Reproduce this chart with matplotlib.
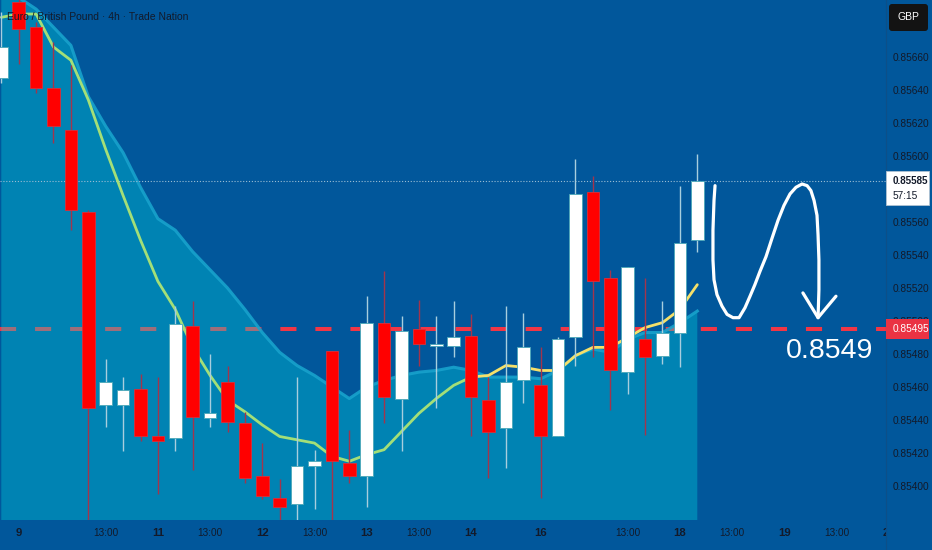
import numpy as np
import matplotlib.pyplot as plt
from matplotlib.patches import Rectangle, FancyBboxPatch
from matplotlib.transforms import IdentityTransform

# EUR/GBP 4h candles
opens = [0.85647, 0.85693, 0.85678, 0.85641, 0.85616, 0.85566, 0.85449, 0.85449, 0.85459, 0.85430,
         0.85429, 0.85497, 0.85441, 0.85463, 0.85438, 0.85406, 0.85393, 0.85389, 0.85412, 0.85482,
         0.85414, 0.85406, 0.85499, 0.85453, 0.85495, 0.85485, 0.85485, 0.85491, 0.85452, 0.85435,
         0.85464, 0.85461, 0.85430, 0.85490, 0.85578, 0.85526, 0.85469, 0.85489, 0.85479, 0.85493,
         0.85549]
highs = [0.85687, 0.85699, 0.85681, 0.85669, 0.85655, 0.85567, 0.85477, 0.85466, 0.85468, 0.85466,
         0.85509, 0.85512, 0.85480, 0.85473, 0.85445, 0.85426, 0.85404, 0.85466, 0.85422, 0.85482,
         0.85434, 0.85515, 0.85530, 0.85503, 0.85513, 0.85503, 0.85512, 0.85504, 0.85466, 0.85509,
         0.85505, 0.85484, 0.85490, 0.85598, 0.85588, 0.85531, 0.85533, 0.85526, 0.85512, 0.85582,
         0.85601]
lows = [0.85644, 0.85656, 0.85638, 0.85608, 0.85555, 0.85373, 0.85436, 0.85421, 0.85427, 0.85395,
        0.85421, 0.85410, 0.85436, 0.85433, 0.85402, 0.85392, 0.85373, 0.85373, 0.85386, 0.85373,
        0.85402, 0.85387, 0.85438, 0.85421, 0.85473, 0.85447, 0.85478, 0.85430, 0.85405, 0.85411,
        0.85450, 0.85393, 0.85430, 0.85473, 0.85478, 0.85446, 0.85456, 0.85431, 0.85474, 0.85472,
        0.85542]
closes = [0.85666, 0.85677, 0.85641, 0.85618, 0.85567, 0.85447, 0.85463, 0.85458, 0.85430, 0.85427,
          0.85498, 0.85442, 0.85444, 0.85439, 0.85405, 0.85394, 0.85387, 0.85412, 0.85415, 0.85415,
          0.85406, 0.85499, 0.85454, 0.85494, 0.85486, 0.85485, 0.85490, 0.85454, 0.85433, 0.85463,
          0.85484, 0.85430, 0.85489, 0.85577, 0.85524, 0.85470, 0.85533, 0.85478, 0.85493, 0.85547,
          0.85585]

# moving average line and the upper edge of the shaded area
ema_vals = [0.85684, 0.85686, 0.85686, 0.85666, 0.85658, 0.85634, 0.85604, 0.85576, 0.85549, 0.85524,
            0.85507, 0.85484, 0.85467, 0.85452, 0.85445, 0.85437, 0.85430, 0.85428, 0.85426, 0.85418,
            0.85415, 0.85419, 0.85422, 0.85433, 0.85444, 0.85453, 0.85461, 0.85466, 0.85467, 0.85473,
            0.85472, 0.85470, 0.85470, 0.85479, 0.85484, 0.85484, 0.85490, 0.85496, 0.85499, 0.85507,
            0.85522]
band_vals = [0.85704, 0.85696, 0.85689, 0.85678, 0.85667, 0.85636, 0.85618, 0.85602, 0.85581, 0.85562,
             0.85555, 0.85542, 0.85531, 0.85520, 0.85507, 0.85493, 0.85481, 0.85473, 0.85467, 0.85460,
             0.85453, 0.85460, 0.85464, 0.85467, 0.85469, 0.85470, 0.85472, 0.85470, 0.85466, 0.85466,
             0.85466, 0.85465, 0.85470, 0.85479, 0.85483, 0.85481, 0.85489, 0.85493, 0.85493, 0.85499,
             0.85506]

# time axis (candle index -> label)
tick_pos = [1, 6, 9, 12, 15, 18, 21, 24, 27, 31, 36, 39, 42, 45, 48, 51]
tick_labels = ["9", "13:00", "11", "13:00", "12", "13:00", "13", "13:00",
               "14", "16", "13:00", "18", "13:00", "19", "13:00", "20"]
price_ticks = [0.85400, 0.85420, 0.85440, 0.85460, 0.85480, 0.85500, 0.85520,
               0.85540, 0.85560, 0.85580, 0.85600, 0.85620, 0.85640, 0.85660]

last_price = 0.85585
target_price = 0.85495
countdown = "57:15"
title = "Euro / British Pound · 4h · Trade Nation"

# hand drawn projection (candle index, price)
sketch_x = [41.02, 40.96, 40.90, 40.90, 40.96, 41.13, 41.42, 41.71, 42.05, 42.40,
            42.74, 43.03, 43.31, 43.60, 43.95, 44.29, 44.64, 44.98, 45.33, 45.67,
            46.02, 46.31, 46.53, 46.71, 46.88, 46.94, 46.99, 46.99, 46.94]
sketch_y = [0.85582, 0.85573, 0.85555, 0.85537, 0.85525, 0.85516, 0.85509, 0.85504, 0.85502, 0.85502,
            0.85508, 0.85515, 0.85522, 0.85530, 0.85539, 0.85550, 0.85561, 0.85570, 0.85577, 0.85581,
            0.85583, 0.85582, 0.85579, 0.85573, 0.85564, 0.85552, 0.85537, 0.85519, 0.85502]
head_x = [46.07, 46.94, 47.97]
head_y = [0.85517, 0.85502, 0.85515]

#colours
BG = "#01579b"
RED = "#ff0000"
DARK = "#131a2a"
FONT = ["Liberation Sans", "DejaVu Sans"]

W, H = 932, 550
fig = plt.figure(figsize=(W / 100, H / 100), dpi=100)
fig.patch.set_facecolor(BG)

ax = fig.add_axes([0, 30 / H, 1, 520 / H])
ax.set_facecolor(BG)
step = 17.4   # px per candle
x0 = 1.3
ax.set_xlim(-x0 / step, (W - x0) / step)
y_top, y_bot = 0.856945, 0.853794
ax.set_ylim(y_bot, y_top)
for s in ax.spines.values():
    s.set_visible(False)

idx = np.arange(len(opens))
o = np.array(opens); c = np.array(closes)
up = c >= o

# target line sits under the shaded area
ax.axhline(target_price, color="#f23645", lw=2.9, dashes=(4, 4.7), zorder=1)

ax.fill_between(idx, band_vals, y_bot - 0.001, color=(0, 219 / 255, 226 / 255),
                alpha=0.34, lw=0, zorder=2)
ax.plot(idx, band_vals, color="#18a2cc", lw=2.2, alpha=0.9, zorder=2.5)

ax.axhline(last_price, color="#9bbdd4", lw=0.8, ls=(0, (1, 1.6)), zorder=3)

ax.plot(idx[:28], ema_vals[:28], color="#a3df78", lw=2, zorder=3, solid_capstyle="round")
ax.plot(idx[27:], ema_vals[27:], color="#f5e06a", lw=2, zorder=3, solid_capstyle="round")

wick_cols = ["#a8cede" if u else "#a3344c" for u in up]
ax.vlines(idx, lows, highs, colors=wick_cols, lw=1, zorder=3.5)
body_h = np.maximum(np.abs(c - o), 0.000009)
body_b = np.minimum(o, c)
ax.bar(idx, body_h, bottom=body_b, width=0.72,
       color=["#ffffff" if u else RED for u in up],
       edgecolor=["#4aa7b8" if u else "#d8303c" for u in up], linewidth=0.6, zorder=4)

# drawing
ax.plot(sketch_x, sketch_y, color="white", lw=2.3, solid_capstyle="round",
        solid_joinstyle="round", zorder=6)
ax.plot(head_x, head_y, color="white", lw=2.3, solid_capstyle="round",
        solid_joinstyle="round", zorder=6)
ax.text(47.63, 0.854818, f"{target_price:.4f}", color="white", fontsize=20.5,
        family=FONT, ha="center", va="center", zorder=6)

ax.set_yticks([])
ax.set_xticks(tick_pos)
ax.set_xticklabels(tick_labels)
ax.tick_params(axis="x", length=0, pad=6)
for lab in ax.get_xticklabels():
    lab.set_color(DARK)
    lab.set_family(FONT)
    if ":" in lab.get_text():
        lab.set_fontsize(7.2)
    else:
        lab.set_fontsize(8.2)
        lab.set_fontweight("bold")

fig.text(7 / W, 1 - 17 / H, title, color=DARK, fontsize=7.5,
         family=FONT, ha="left", va="center")

# price scale panel
pax = fig.add_axes([886 / W, 0, 46 / W, 1])
pax.set_zorder(5)
pax.set_facecolor(BG)
pax.set_xlim(0, 1)
px = (y_top - y_bot) / 520
pax.set_ylim(y_top - px * H, y_top)
for k, s in pax.spines.items():
    s.set_visible(k == "left")
pax.spines["left"].set_color("#0d4f88")
pax.spines["left"].set_linewidth(0.8)
pax.set_xticks([])
pax.set_yticks(price_ticks)
# the 0.85580 label sits fully under the live price tag, so it is left blank
pax.set_yticklabels(["" if abs(p - last_price) < 0.0001 else f"{p:.5f}" for p in price_ticks])
pax.tick_params(axis="y", length=0, pad=-5, labelsize=7.3, labelcolor=DARK)
for lab in pax.get_yticklabels():
    lab.set_horizontalalignment("left")
    lab.set_family(FONT)

# current price tag
pax.add_patch(Rectangle((0, last_price - 24 * px), 0.935, 34 * px,
                        fc="white", ec="#b0c4d4", lw=0.6, zorder=3))
pax.text(0.152, last_price, f"{last_price:.5f}", color=DARK, fontsize=7.1,
         fontweight="bold", family=FONT, va="center", ha="left", zorder=4)
pax.text(0.152, last_price - 15 * px, countdown, color=DARK, fontsize=7.3,
         family=FONT, va="center", ha="left", zorder=4)

# target tag
pax.add_patch(Rectangle((0, target_price - 10 * px), 0.935, 20 * px,
                        fc="#ea3343", ec="none", zorder=3))
pax.text(0.152, target_price, f"{target_price:.5f}", color="white", fontsize=7.3,
         family=FONT, va="center", ha="left", zorder=4)

# currency badge
fig.add_artist(FancyBboxPatch((889, H - 31), 39, 27, boxstyle="round,pad=0,rounding_size=3",
                              transform=IdentityTransform(), fc="#131313", ec="none", zorder=10))
fig.text(908.5 / W, 1 - 17.5 / H, "GBP", color="white", fontsize=7.5,
         family=FONT, ha="center", va="center", zorder=11)

fig.savefig("out.png", dpi=100, facecolor=BG)
